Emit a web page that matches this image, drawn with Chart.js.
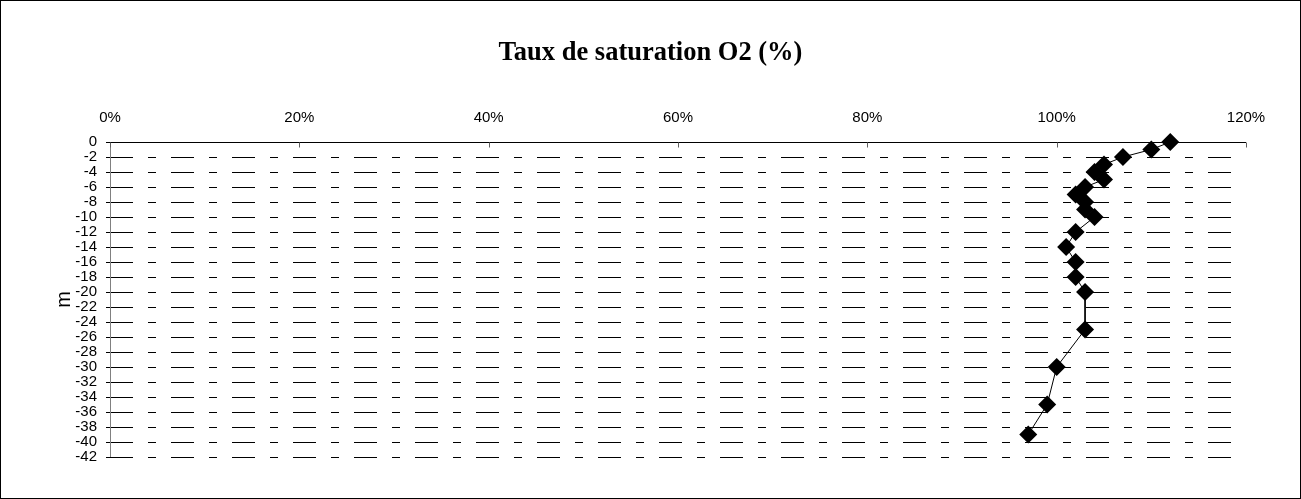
<!DOCTYPE html>
<html>
<head>
<meta charset="utf-8">
<script src="https://cdn.jsdelivr.net/npm/chart.js@4"></script>
<style>
html,body{margin:0;padding:0;background:#fff;}
canvas{display:block;}
</style>
</head>
<body>
<canvas id="c" width="1301" height="499"></canvas>
<script>
const chartTitle = "Taux de saturation O2 (%)";
const yTitle = "m";
const depths = [0, -1, -2, -3, -4, -5, -6, -7, -8, -9, -10, -12, -14, -16, -18, -20, -25, -30, -35, -39];
const saturation = [112, 110, 107, 105, 104, 105, 103, 102, 103, 103, 104, 102, 101, 102, 102, 103, 103, 100, 99, 97];
const xTicks = [0, 20, 40, 60, 80, 100, 120];
const yMin = -42, yMax = 0, yStep = 2;

const points = saturation.map((v, i) => ({x: v, y: depths[i]}));

const TITLE_SIZE = 26.5, TITLE_PAD = 37;

const frame = {
  id: 'frame',
  beforeDraw(chart) {
    const ctx = chart.ctx;
    ctx.save();
    ctx.fillStyle = '#fff';
    ctx.fillRect(0, 0, chart.width, chart.height);
    ctx.restore();
  },
  beforeDatasetsDraw(chart) {
    const ctx = chart.ctx;
    const xs = chart.scales.x;
    const ys = chart.scales.y;
    const ca = chart.chartArea;
    ctx.save();
    ctx.lineWidth = 1;
    const lx = Math.round(xs.getPixelForValue(0)) + 0.5;
    ctx.strokeStyle = '#808080';
    ctx.setLineDash([]);
    ctx.beginPath();
    ctx.moveTo(lx, ys.getPixelForValue(yMax));
    ctx.lineTo(lx, ys.getPixelForValue(yMin));
    ctx.stroke();
    const ty = Math.round(ys.getPixelForValue(yMax)) + 0.5;
    ctx.strokeStyle = '#000';
    ctx.beginPath();
    ctx.moveTo(ca.left, ty);
    ctx.lineTo(ca.right, ty);
    ctx.stroke();
    ctx.strokeStyle = '#606060';
    xTicks.forEach(v => {
      const px = Math.round(xs.getPixelForValue(v)) + 0.5;
      ctx.beginPath();
      ctx.moveTo(px, ty);
      ctx.lineTo(px, ty + 5);
      ctx.stroke();
    });
    ctx.restore();
  },
  afterDraw(chart) {
    const ctx = chart.ctx;
    ctx.save();
    ctx.strokeStyle = '#000';
    ctx.lineWidth = 1;
    ctx.setLineDash([]);
    ctx.strokeRect(0.5, 0.5, chart.width - 1, chart.height - 1);
    ctx.restore();
  }
};

new Chart(document.getElementById('c'), {
  type: 'scatter',
  data: {
    datasets: [{
      data: points,
      showLine: true,
      borderColor: '#000',
      borderWidth: 1,
      backgroundColor: '#000',
      pointBackgroundColor: '#000',
      pointBorderColor: '#000',
      pointStyle: 'rectRot',
      pointRadius: 9,
      pointBorderWidth: 0,
      tension: 0,
      clip: false
    }]
  },
  plugins: [frame],
  options: {
    responsive: false,
    devicePixelRatio: 1,
    animation: false,
    events: [],
    layout: {padding: {left: 10, right: 10, top: 0, bottom: 42}},
    plugins: {
      legend: {display: false},
      tooltip: {enabled: false},
      title: {
        display: true,
        text: chartTitle,
        color: '#000',
        font: {family: 'Liberation Serif', size: TITLE_SIZE, weight: 'bold', lineHeight: 1.2},
        padding: {top: TITLE_PAD, bottom: 0}
      }
    },
    scales: {
      x: {
        type: 'linear',
        position: 'top',
        min: 0, max: 120,
        afterBuildTicks(scale) { scale.ticks = xTicks.map(v => ({value: v})); },
        afterFit(scale) { scale.height = 142 - (TITLE_PAD + TITLE_SIZE * 1.2); },
        ticks: {
          color: '#000',
          font: {family: 'Liberation Sans', size: 15, lineHeight: 1.2},
          padding: 15,
          maxRotation: 0,
          callback: v => v + '%'
        },
        grid: {display: false, drawTicks: false},
        border: {display: false}
      },
      y: {
        type: 'linear',
        min: yMin, max: yMax,
        ticks: {
          stepSize: yStep,
          color: '#000',
          font: {family: 'Liberation Sans', size: 15, lineHeight: 1.0},
          padding: 9,
          autoSkip: false
        },
        afterFit(scale) { scale.width = 100; },
        title: {
          display: true,
          text: yTitle,
          color: '#000',
          font: {family: 'Liberation Sans', size: 20, lineHeight: 1.2},
          padding: {top: 42, bottom: 0}
        },
        grid: {
          display: true,
          color: '#000',
          lineWidth: 1,
          drawTicks: true,
          tickLength: 4,
          tickColor: '#000',
          tickWidth: 1
        },
        border: {display: false, dash: [23, 15, 8, 15]}
      },
      yRight: {
        type: 'linear',
        position: 'right',
        min: yMin, max: yMax,
        display: true,
        afterFit(scale) { scale.width = 45; },
        ticks: {display: false},
        grid: {display: false, drawTicks: false},
        border: {display: false}
      }
    }
  }
});
</script>
</body>
</html>
